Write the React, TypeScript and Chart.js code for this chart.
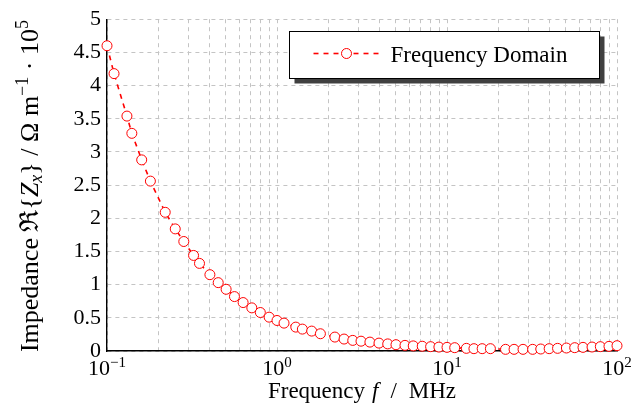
import React, { useEffect, useRef } from 'react';
import { Chart, registerables } from 'chart.js';

Chart.register(...registerables);

// ---- data ----
const frequencyMHz = [
  0.1, 0.11, 0.131, 0.14, 0.16, 0.18, 0.22, 0.252, 0.283, 0.323, 0.35, 0.403, 0.451, 0.502, 0.562,
  0.632, 0.711, 0.798, 0.899, 1.0, 1.1, 1.29, 1.41, 1.6, 1.8, 2.19, 2.48, 2.79, 3.12, 3.52, 3.98,
  4.48, 5.01, 5.66, 6.33, 7.15, 8.01, 8.96, 10.0, 11.1, 13.0, 14.4, 16.1, 18.0, 22.1, 24.8, 28.0,
  31.9, 35.6, 39.9, 44.7, 50.4, 56.4, 63.1, 71.3, 79.8, 89.7, 100,
];
const impedance = [
  4.6, 4.18, 3.54, 3.28, 2.88, 2.56, 2.09, 1.84, 1.65, 1.44, 1.32, 1.15, 1.03, 0.93, 0.82,
  0.73, 0.65, 0.58, 0.51, 0.46, 0.42, 0.36, 0.33, 0.3, 0.26, 0.21, 0.18, 0.16, 0.148, 0.134, 0.119,
  0.107, 0.095, 0.085, 0.077, 0.072, 0.065, 0.059, 0.055, 0.05, 0.04, 0.035, 0.035, 0.035, 0.025, 0.025, 0.025,
  0.025, 0.03, 0.035, 0.04, 0.045, 0.05, 0.055, 0.06, 0.065, 0.07, 0.08,
];
const seriesLabel = 'Frequency Domain';
const yTickValues = [0, 0.5, 1, 1.5, 2, 2.5, 3, 3.5, 4, 4.5, 5];
const yTickLabels = ['0', '0.5', '1', '1.5', '2', '2.5', '3', '3.5', '4', '4.5', '5'];
const xMajorTicks = [0.1, 1, 10, 100];
const xTickBase = '10';
const xTickExponents = ['−1', '0', '1', '2'];
const xMinorMultipliers = [2, 3, 4, 5, 6, 7, 8, 9];

const SERIF = "'Liberation Serif', 'DejaVu Serif', serif";
const fontOf = (size: number, italic = false) => `${italic ? 'italic ' : ''}${size}px ${SERIF}`;

type Seg = { t: string; size?: number; italic?: boolean; dy?: number; gap?: number };

function drawRich(ctx: CanvasRenderingContext2D, segs: Seg[], x: number, y: number, align: 'center' | 'left') {
  const widths: number[] = [];
  let total = 0;
  for (const s of segs) {
    ctx.font = fontOf(s.size ?? 23, s.italic);
    const w = ctx.measureText(s.t).width;
    widths.push(w);
    total += w + (s.gap ?? 0);
  }
  let cx = align === 'center' ? x - total / 2 : x;
  ctx.textAlign = 'left';
  ctx.textBaseline = 'alphabetic';
  segs.forEach((s, i) => {
    cx += s.gap ?? 0;
    ctx.font = fontOf(s.size ?? 23, s.italic);
    ctx.fillText(s.t, cx, y + (s.dy ?? 0));
    cx += widths[i];
  });
}

const yTitle: Seg[] = [
  { t: 'Impedance ', size: 26 },
  { t: 'ℜ', size: 26 },
  { t: '{', size: 26 },
  { t: 'Z', italic: true, size: 26 },
  { t: 'x', italic: true, size: 18, dy: 4 },
  { t: '}', size: 26 },
  { t: ' / ', size: 26 },
  { t: 'Ω m', size: 26 },
  { t: '−1', size: 18, dy: -10 },
  { t: ' · 10', size: 26 },
  { t: '5', size: 18, dy: -10 },
];
const xTitle: Seg[] = [
  { t: 'Frequency' },
  { t: 'f', italic: true, gap: 7 },
  { t: '/', gap: 12 },
  { t: 'MHz', gap: 12 },
];

const decorPlugin = {
  id: 'decor',
  afterDraw(chart: any) {
    const { ctx, chartArea, scales } = chart;
    const xs = scales.x;
    ctx.save();
    ctx.fillStyle = '#000';
    // x tick labels 10^n
    xMajorTicks.forEach((v, i) => {
      const px = xs.getPixelForValue(v);
      drawRich(ctx, [{ t: xTickBase, size: 22 }, { t: xTickExponents[i], size: 15, dy: -8 }], px, chartArea.bottom + 24, 'center');
    });
    // axis titles
    drawRich(ctx, xTitle, (chartArea.left + chartArea.right) / 2, chartArea.bottom + 47, 'center');
    ctx.save();
    ctx.translate(chartArea.left - 69, (chartArea.top + chartArea.bottom) / 2 + 1);
    ctx.rotate(-Math.PI / 2);
    drawRich(ctx, yTitle, 0, 0, 'center');
    ctx.restore();

    // legend box with shadow
    const w = 310, h = 47;
    const lx = Math.round(chartArea.right - 18 - w) + 0.5;
    const ly = Math.round(chartArea.top + 12) + 0.5;
    ctx.fillStyle = '#404040';
    ctx.fillRect(lx + 5, ly + 5, w, h);
    ctx.fillStyle = '#fff';
    ctx.fillRect(lx, ly, w, h);
    ctx.strokeStyle = '#000';
    ctx.lineWidth = 1;
    ctx.strokeRect(lx, ly, w, h);
    const cy = ly + 22;
    ctx.strokeStyle = '#ff0000';
    ctx.lineWidth = 1.6;
    ctx.setLineDash([5, 5]);
    ctx.beginPath();
    ctx.moveTo(lx + 24, cy);
    ctx.lineTo(lx + 90, cy);
    ctx.stroke();
    ctx.setLineDash([]);
    ctx.beginPath();
    ctx.arc(lx + 57, cy, 5, 0, Math.PI * 2);
    ctx.fillStyle = '#fff';
    ctx.fill();
    ctx.lineWidth = 1;
    ctx.stroke();
    ctx.fillStyle = '#000';
    ctx.font = fontOf(23);
    ctx.textAlign = 'left';
    ctx.textBaseline = 'alphabetic';
    ctx.fillText(seriesLabel, lx + 101, ly + 30);
    ctx.restore();
  },
};

export default function App() {
  const ref = useRef<HTMLCanvasElement | null>(null);
  useEffect(() => {
    if (!ref.current) return;
    const xGridTicks: number[] = [];
    xMajorTicks.forEach((m, i) => {
      xGridTicks.push(m);
      if (i < xMajorTicks.length - 1) xMinorMultipliers.forEach((k) => xGridTicks.push(m * k));
    });
    const gridColor = '#c4c4c4';
    const chart = new Chart(ref.current, {
      type: 'line',
      data: {
        datasets: [
          {
            label: seriesLabel,
            data: frequencyMHz.map((f, i) => ({ x: f, y: impedance[i] })),
            borderColor: '#ff0000',
            borderWidth: 1.6,
            borderDash: [5, 5],
            pointRadius: 5,
            pointBorderWidth: 1,
            pointBorderColor: '#ff0000',
            pointBackgroundColor: '#ffffff',
            tension: 0,
            clip: false as any,
          },
        ],
      },
      options: {
        animation: false,
        responsive: false,
        devicePixelRatio: 1,
        layout: { padding: { left: 0, right: 26, top: 14, bottom: 0 } },
        plugins: { legend: { display: false }, tooltip: { enabled: false } },
        scales: {
          x: {
            type: 'logarithmic',
            min: 0.1,
            max: 100,
            afterBuildTicks: (s: any) => {
              s.ticks = xGridTicks.map((v) => ({ value: v, major: xMajorTicks.includes(v) }));
            },
            afterFit: (s: any) => {
              s.height = 59;
            },
            ticks: { display: false, autoSkip: false },
            grid: { color: gridColor, lineWidth: 1, drawTicks: false },
            border: { display: true, color: '#000', width: 1.4, dash: [4, 4] },
          },
          y: {
            type: 'linear',
            min: 0,
            max: 5,
            afterBuildTicks: (s: any) => {
              s.ticks = yTickValues.map((v) => ({ value: v }));
            },
            afterFit: (s: any) => {
              s.width = 107;
            },
            ticks: {
              autoSkip: false,
              padding: 6,
              color: '#000',
              font: { family: SERIF, size: 22 },
              callback: (_v: any, i: number) => yTickLabels[i],
            },
            grid: { color: gridColor, lineWidth: 1, drawTicks: false },
            border: { display: true, color: '#000', width: 1.4, dash: [4, 4] },
          },
        },
      },
      plugins: [decorPlugin],
    });
    return () => chart.destroy();
  }, []);
  return (
    <div style={{ position: 'fixed', left: 0, top: 0, width: 643, height: 410, background: '#fff' }}>
      <canvas ref={ref} width={643} height={410} style={{ display: 'block', width: 643, height: 410 }} />
    </div>
  );
}
